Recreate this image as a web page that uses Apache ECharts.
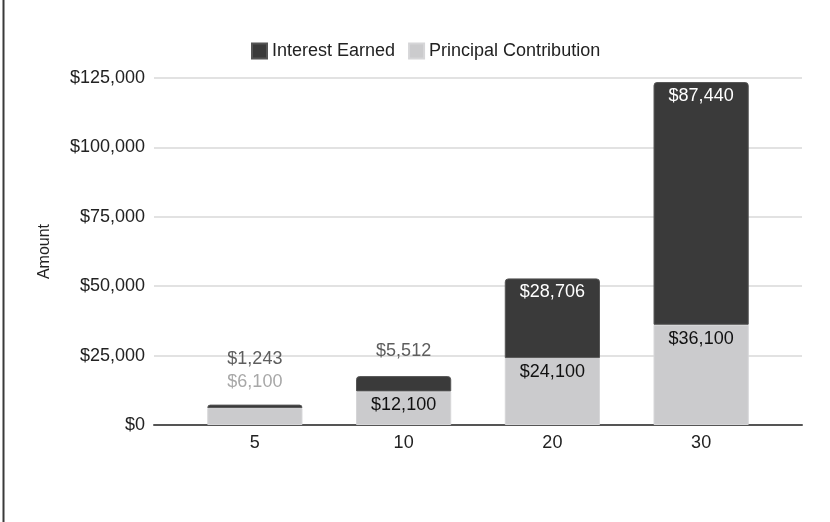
<!DOCTYPE html>
<html>
<head>
<meta charset="utf-8">
<script src="https://cdn.jsdelivr.net/npm/echarts@6/dist/echarts.min.js"></script>
<style>
  html, body { margin: 0; padding: 0; background: #fff; }
  #chart { width: 830px; height: 522px; }
</style>
</head>
<body>
<div id="chart"></div>
<script>
// Years invested
const years = ['5', '10', '20', '30'];
// Total money contributed
const principal = [6100, 12100, 24100, 36100];
// Growth on top of contributions
const interest = [1243, 5512, 28706, 87440];
// Value axis ticks
const yTicks = [0, 25000, 50000, 75000, 100000, 125000];

const FONT = '"Liberation Sans", Arial, Helvetica, sans-serif';
const money = v => '$' + Math.round(v).toLocaleString('en-US');
const Y_MIN = yTicks[0], Y_MAX = yTicks[yTicks.length - 1];

// Short bars cannot hold their labels, so those float above the stack in grey.
const principalLabels = [
  { show: true, position: 'top', offset: [0, -12], color: '#a8a8a8' },
  null, null, null
];
const interestLabels = [
  { show: true, position: 'top', offset: [0, -32], color: '#5e5e5e' },
  { show: true, position: 'top', offset: [0, -11], color: '#5e5e5e' },
  null, null
];

const chart = echarts.init(document.getElementById('chart'));
chart.setOption({
  animation: false,
  textStyle: { fontFamily: FONT },
  graphic: [{
    type: 'line',
    shape: { x1: 3.5, y1: 0, x2: 3.5, y2: 522 },
    style: { stroke: '#3a3a3a', lineWidth: 2 }
  }],
  legend: {
    left: 246, top: 37,
    itemWidth: 15, itemHeight: 15, itemGap: 13,
    icon: 'rect',
    textStyle: { fontSize: 18, color: '#222', fontFamily: FONT },
    data: ['Interest Earned', 'Principal Contribution']
  },
  // Outer grid carries the gridlines and baseline; inner grid is inset so bars sit off the edges.
  grid: [
    { left: 154, right: 28, top: 78, bottom: 97 },
    { left: 180.5, right: 54.5, top: 78, bottom: 97 }
  ],
  xAxis: [
    {
      gridIndex: 0,
      type: 'category',
      data: years,
      axisLine: { lineStyle: { color: '#555', width: 2 } },
      axisTick: { show: false },
      axisLabel: { show: false }
    },
    {
      gridIndex: 1,
      type: 'category',
      data: years,
      axisLine: { show: false },
      axisTick: { show: false },
      axisLabel: { fontSize: 18, color: '#222', margin: 9, fontFamily: FONT }
    }
  ],
  yAxis: [
    {
      gridIndex: 0,
      type: 'value',
      min: Y_MIN, max: Y_MAX, interval: 25000,
      name: 'Amount',
      nameLocation: 'middle',
      nameGap: 101,
      nameTextStyle: { fontSize: 16, color: '#222', fontFamily: FONT },
      axisLabel: { fontSize: 18, color: '#222', margin: 9, fontFamily: FONT, formatter: money },
      splitLine: { lineStyle: { color: '#e2e2e2', width: 2 } },
      axisLine: { show: false },
      axisTick: { show: false }
    },
    {
      gridIndex: 1,
      type: 'value',
      min: Y_MIN, max: Y_MAX, interval: 25000,
      axisLabel: { show: false },
      splitLine: { show: false },
      axisLine: { show: false },
      axisTick: { show: false }
    }
  ],
  series: [
    {
      name: 'Principal Contribution',
      type: 'bar',
      xAxisIndex: 1, yAxisIndex: 1,
      stack: 'total',
      barWidth: '64%',
      itemStyle: { color: '#cbcbcd', borderColor: '#d6d6d8', borderWidth: 1 },
      label: {
        show: true, position: 'insideTop', distance: 5,
        fontSize: 18, color: '#111', fontFamily: FONT,
        formatter: p => money(p.value)
      },
      data: principal.map((v, i) => principalLabels[i] ? { value: v, label: principalLabels[i] } : v)
    },
    {
      name: 'Interest Earned',
      type: 'bar',
      xAxisIndex: 1, yAxisIndex: 1,
      stack: 'total',
      barWidth: '64%',
      itemStyle: { color: '#3a3a3a', borderColor: '#555', borderWidth: 1, borderRadius: [3, 3, 0, 0] },
      label: {
        show: true, position: 'insideTop', distance: 5,
        fontSize: 18, color: '#fff', fontFamily: FONT,
        formatter: p => money(p.value)
      },
      data: interest.map((v, i) => interestLabels[i] ? { value: v, label: interestLabels[i] } : v)
    }
  ]
});
</script>
</body>
</html>
